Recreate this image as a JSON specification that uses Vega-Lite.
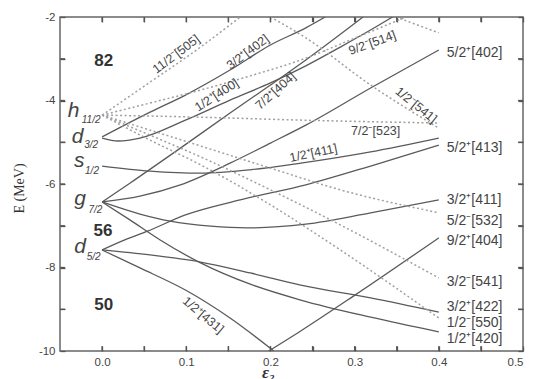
{
  "$schema": "https://vega.github.io/schema/vega-lite/v6.json",
  "width": 463,
  "height": 334,
  "autosize": {"type": "none"},
  "padding": {"left": 60, "top": 17, "right": 19, "bottom": 28},
  "background": "white",
  "config": {
    "view": {"stroke": "#666", "strokeWidth": 1.5},
    "axis": {"domain": false, "grid": false, "ticks": true, "zindex": 1, "tickColor": "#555", "tickOpacity": 1, "tickWidth": 1.3, "tickSize": 5, "offset": -5, "labelFont": "Liberation Sans", "labelFontSize": 11.5, "labelColor": "#444"}
  },
  "datasets": {
    "solid": [
      {"id": "S1", "eps": 0, "E": -4.87}, {"id": "S1", "eps": 0.021, "E": -4.65}, {"id": "S1", "eps": 0.057, "E": -4.28}, {"id": "S1", "eps": 0.099, "E": -3.87}, {"id": "S1", "eps": 0.152, "E": -3.27}, {"id": "S1", "eps": 0.2, "E": -2.67}, {"id": "S1", "eps": 0.242, "E": -2.26}, {"id": "S1", "eps": 0.265, "E": -2.0},
      {"id": "S2", "eps": 0, "E": -4.9}, {"id": "S2", "eps": 0.019, "E": -4.97}, {"id": "S2", "eps": 0.045, "E": -4.9}, {"id": "S2", "eps": 0.099, "E": -4.47}, {"id": "S2", "eps": 0.152, "E": -3.99}, {"id": "S2", "eps": 0.2, "E": -3.58}, {"id": "S2", "eps": 0.242, "E": -3.17}, {"id": "S2", "eps": 0.283, "E": -2.72}, {"id": "S2", "eps": 0.325, "E": -2.24}, {"id": "S2", "eps": 0.345, "E": -2.0},
      {"id": "S3", "eps": 0, "E": -6.43}, {"id": "S3", "eps": 0.033, "E": -5.98}, {"id": "S3", "eps": 0.093, "E": -5.14}, {"id": "S3", "eps": 0.152, "E": -4.3}, {"id": "S3", "eps": 0.2, "E": -3.63}, {"id": "S3", "eps": 0.242, "E": -3.03}, {"id": "S3", "eps": 0.31, "E": -2.0},
      {"id": "S4", "eps": 0, "E": -6.43}, {"id": "S4", "eps": 0.045, "E": -6.29}, {"id": "S4", "eps": 0.093, "E": -6.02}, {"id": "S4", "eps": 0.152, "E": -5.5}, {"id": "S4", "eps": 0.2, "E": -5.02}, {"id": "S4", "eps": 0.242, "E": -4.59}, {"id": "S4", "eps": 0.319, "E": -3.7}, {"id": "S4", "eps": 0.4, "E": -2.79},
      {"id": "S5", "eps": 0, "E": -7.58}, {"id": "S5", "eps": 0.027, "E": -7.34}, {"id": "S5", "eps": 0.054, "E": -7.13}, {"id": "S5", "eps": 0.099, "E": -6.74}, {"id": "S5", "eps": 0.164, "E": -6.38}, {"id": "S5", "eps": 0.242, "E": -6.02}, {"id": "S5", "eps": 0.319, "E": -5.57}, {"id": "S5", "eps": 0.4, "E": -5.07},
      {"id": "S6", "eps": 0, "E": -5.57}, {"id": "S6", "eps": 0.057, "E": -5.69}, {"id": "S6", "eps": 0.117, "E": -5.74}, {"id": "S6", "eps": 0.176, "E": -5.66}, {"id": "S6", "eps": 0.236, "E": -5.5}, {"id": "S6", "eps": 0.319, "E": -5.23}, {"id": "S6", "eps": 0.4, "E": -4.9},
      {"id": "S7", "eps": 0, "E": -6.43}, {"id": "S7", "eps": 0.045, "E": -6.72}, {"id": "S7", "eps": 0.081, "E": -6.89}, {"id": "S7", "eps": 0.129, "E": -7.01}, {"id": "S7", "eps": 0.173, "E": -7.05}, {"id": "S7", "eps": 0.242, "E": -6.96}, {"id": "S7", "eps": 0.319, "E": -6.69}, {"id": "S7", "eps": 0.4, "E": -6.38},
      {"id": "S8", "eps": 0, "E": -7.58}, {"id": "S8", "eps": 0.057, "E": -7.7}, {"id": "S8", "eps": 0.117, "E": -7.87}, {"id": "S8", "eps": 0.176, "E": -8.13}, {"id": "S8", "eps": 0.236, "E": -8.42}, {"id": "S8", "eps": 0.319, "E": -8.73}, {"id": "S8", "eps": 0.4, "E": -9.07},
      {"id": "S9", "eps": 0, "E": -6.43}, {"id": "S9", "eps": 0.033, "E": -6.86}, {"id": "S9", "eps": 0.069, "E": -7.34}, {"id": "S9", "eps": 0.117, "E": -7.89}, {"id": "S9", "eps": 0.176, "E": -8.4}, {"id": "S9", "eps": 0.236, "E": -8.78}, {"id": "S9", "eps": 0.319, "E": -9.19}, {"id": "S9", "eps": 0.4, "E": -9.54},
      {"id": "S10", "eps": 0, "E": -7.58}, {"id": "S10", "eps": 0.045, "E": -8.01}, {"id": "S10", "eps": 0.099, "E": -8.54}, {"id": "S10", "eps": 0.152, "E": -9.21}, {"id": "S10", "eps": 0.204, "E": -10.0},
      {"id": "S11", "eps": 0.198, "E": -10.0}, {"id": "S11", "eps": 0.236, "E": -9.52}, {"id": "S11", "eps": 0.299, "E": -8.68}, {"id": "S11", "eps": 0.4, "E": -7.29}
    ],
    "dotted": [
      {"id": "D1", "eps": 0, "E": -4.35}, {"id": "D1", "eps": 0.057, "E": -3.56}, {"id": "D1", "eps": 0.117, "E": -2.72}, {"id": "D1", "eps": 0.164, "E": -2.0},
      {"id": "D2", "eps": 0, "E": -4.35}, {"id": "D2", "eps": 0.057, "E": -4.06}, {"id": "D2", "eps": 0.117, "E": -3.75}, {"id": "D2", "eps": 0.176, "E": -3.41}, {"id": "D2", "eps": 0.236, "E": -3.03}, {"id": "D2", "eps": 0.295, "E": -2.55}, {"id": "D2", "eps": 0.361, "E": -2.0},
      {"id": "D3", "eps": 0, "E": -4.35}, {"id": "D3", "eps": 0.117, "E": -4.4}, {"id": "D3", "eps": 0.236, "E": -4.47}, {"id": "D3", "eps": 0.4, "E": -4.54},
      {"id": "D4", "eps": 0, "E": -4.35}, {"id": "D4", "eps": 0.057, "E": -4.71}, {"id": "D4", "eps": 0.117, "E": -5.09}, {"id": "D4", "eps": 0.2, "E": -5.62}, {"id": "D4", "eps": 0.283, "E": -6.14}, {"id": "D4", "eps": 0.4, "E": -6.69},
      {"id": "D5", "eps": 0, "E": -4.35}, {"id": "D5", "eps": 0.057, "E": -4.83}, {"id": "D5", "eps": 0.117, "E": -5.35}, {"id": "D5", "eps": 0.2, "E": -6.14}, {"id": "D5", "eps": 0.283, "E": -6.98}, {"id": "D5", "eps": 0.4, "E": -8.25},
      {"id": "D6", "eps": 0, "E": -4.35}, {"id": "D6", "eps": 0.057, "E": -4.95}, {"id": "D6", "eps": 0.117, "E": -5.54}, {"id": "D6", "eps": 0.2, "E": -6.5}, {"id": "D6", "eps": 0.283, "E": -7.58}, {"id": "D6", "eps": 0.4, "E": -9.21},
      {"id": "D7", "eps": 0.2, "E": -2.0}, {"id": "D7", "eps": 0.242, "E": -2.5}, {"id": "D7", "eps": 0.319, "E": -3.63}, {"id": "D7", "eps": 0.4, "E": -4.66},
      {"id": "D8", "eps": 0.349, "E": -2.0}, {"id": "D8", "eps": 0.4, "E": -2.38}
    ],
    "xbot": [{"eps": 0, "E": -10}, {"eps": 0.05, "E": -10}, {"eps": 0.1, "E": -10}, {"eps": 0.15, "E": -10}, {"eps": 0.2, "E": -10}, {"eps": 0.25, "E": -10}, {"eps": 0.3, "E": -10}, {"eps": 0.35, "E": -10}, {"eps": 0.4, "E": -10}, {"eps": 0.45, "E": -10}],
    "xtop": [{"eps": 0, "E": -2}, {"eps": 0.05, "E": -2}, {"eps": 0.1, "E": -2}, {"eps": 0.15, "E": -2}, {"eps": 0.2, "E": -2}, {"eps": 0.25, "E": -2}, {"eps": 0.3, "E": -2}, {"eps": 0.35, "E": -2}, {"eps": 0.4, "E": -2}, {"eps": 0.45, "E": -2}],
    "yleft": [{"eps": -0.05, "E": -9}, {"eps": -0.05, "E": -8}, {"eps": -0.05, "E": -7}, {"eps": -0.05, "E": -6}, {"eps": -0.05, "E": -5}, {"eps": -0.05, "E": -4}, {"eps": -0.05, "E": -3}],
    "yright": [{"eps": 0.5, "E": -9}, {"eps": 0.5, "E": -8}, {"eps": 0.5, "E": -7}, {"eps": 0.5, "E": -6}, {"eps": 0.5, "E": -5}, {"eps": 0.5, "E": -4}, {"eps": 0.5, "E": -3}],
    "right": [
      {"eps": 0.4, "E": -2.86, "t": "5/2⁺[402]"},
      {"eps": 0.4, "E": -5.14, "t": "5/2⁺[413]"},
      {"eps": 0.4, "E": -6.38, "t": "3/2⁺[411]"},
      {"eps": 0.4, "E": -6.89, "t": "5/2⁻[532]"},
      {"eps": 0.4, "E": -7.37, "t": "9/2⁺[404]"},
      {"eps": 0.4, "E": -8.35, "t": "3/2⁻[541]"},
      {"eps": 0.4, "E": -8.95, "t": "3/2⁺[422]"},
      {"eps": 0.4, "E": -9.33, "t": "1/2⁻[550]"},
      {"eps": 0.4, "E": -9.71, "t": "1/2⁺[420]"}
    ],
    "orb": [
      {"eps": -0.034, "E": -4.4, "t": "h"},
      {"eps": -0.029, "E": -5.02, "t": "d"},
      {"eps": -0.027, "E": -5.59, "t": "s"},
      {"eps": -0.026, "E": -6.5, "t": "g"},
      {"eps": -0.026, "E": -7.65, "t": "d"}
    ],
    "sub": [
      {"eps": -0.013, "E": -4.54, "t": "11/2"},
      {"eps": -0.013, "E": -5.14, "t": "3/2"},
      {"eps": -0.012, "E": -5.76, "t": "1/2"},
      {"eps": -0.008, "E": -6.69, "t": "7/2"},
      {"eps": -0.01, "E": -7.82, "t": "5/2"}
    ],
    "magic": [
      {"eps": 0.002, "E": -3.05, "t": "82"},
      {"eps": 0.001, "E": -7.13, "t": "56"},
      {"eps": 0.002, "E": -8.9, "t": "50"}
    ]
  },
  "layer": [
    {
      "data": {"name": "solid"},
      "mark": {"type": "line", "interpolate": "monotone", "stroke": "#5a5a5a", "strokeWidth": 1.3, "clip": true},
      "encoding": {
        "x": {"field": "eps", "type": "quantitative", "scale": {"domain": [-0.05, 0.5], "nice": false, "zero": false},
          "axis": {"orient": "bottom", "values": [0, 0.05, 0.1, 0.15, 0.2, 0.25, 0.3, 0.35, 0.4, 0.45, 0.5], "labelExpr": "round(datum.value*20) % 2 == 0 ? format(datum.value, '.1f') : ''", "labelPadding": 5, "title": "ε₂", "titleFont": "Liberation Serif", "titleFontStyle": "italic", "titleFontWeight": "bold", "titleFontSize": 17, "titleColor": "#333", "titleX": 208, "titleY": 31, "titleBaseline": "alphabetic", "titleAlign": "center"}},
        "y": {"field": "E", "type": "quantitative", "scale": {"domain": [-10, -2], "nice": false, "zero": false},
          "axis": {"orient": "left", "values": [-10, -9, -8, -7, -6, -5, -4, -3, -2], "labelExpr": "round(datum.value) % 2 == 0 ? datum.value : ''", "labelPadding": 5, "title": "E (MeV)", "titleFont": "Liberation Serif", "titleFontSize": 14, "titleFontWeight": "normal", "titleColor": "#333", "titleAngle": -90, "titleX": -46, "titleY": 171, "titleAlign": "center", "titleBaseline": "middle"}},
        "detail": {"field": "id"}
      }
    },
    {
      "data": {"name": "dotted"},
      "mark": {"type": "line", "interpolate": "monotone", "stroke": "#a0a0a0", "strokeWidth": 1.5, "strokeDash": [2, 2.5], "clip": true},
      "encoding": {
        "x": {"field": "eps", "type": "quantitative", "axis": {"orient": "top", "values": [0, 0.05, 0.1, 0.15, 0.2, 0.25, 0.3, 0.35, 0.4, 0.45, 0.5], "labels": false, "title": null}},
        "y": {"field": "E", "type": "quantitative", "axis": {"orient": "right", "values": [-10, -9, -8, -7, -6, -5, -4, -3, -2], "labels": false, "title": null}},
        "detail": {"field": "id"}
      }
    },
    {
      "data": {"name": "xbot"},
      "mark": {"type": "tick", "orient": "vertical", "size": 5, "thickness": 1.3, "color": "#555", "opacity": 1, "yOffset": -2.5},
      "encoding": {"x": {"field": "eps", "type": "quantitative", "axis": null}, "y": {"field": "E", "type": "quantitative", "axis": null}}
    },
    {
      "data": {"name": "xtop"},
      "mark": {"type": "tick", "orient": "vertical", "size": 5, "thickness": 1.3, "color": "#555", "opacity": 1, "yOffset": 2.5},
      "encoding": {"x": {"field": "eps", "type": "quantitative", "axis": null}, "y": {"field": "E", "type": "quantitative", "axis": null}}
    },
    {
      "data": {"name": "yleft"},
      "mark": {"type": "tick", "orient": "horizontal", "size": 5, "thickness": 1.3, "color": "#555", "opacity": 1, "xOffset": 2.5},
      "encoding": {"x": {"field": "eps", "type": "quantitative", "axis": null}, "y": {"field": "E", "type": "quantitative", "axis": null}}
    },
    {
      "data": {"name": "yright"},
      "mark": {"type": "tick", "orient": "horizontal", "size": 5, "thickness": 1.3, "color": "#555", "opacity": 1, "xOffset": -2.5},
      "encoding": {"x": {"field": "eps", "type": "quantitative", "axis": null}, "y": {"field": "E", "type": "quantitative", "axis": null}}
    },
    {
      "data": {"name": "right"},
      "mark": {"type": "text", "align": "left", "baseline": "middle", "dx": 8, "font": "Liberation Sans", "fontSize": 14, "fill": "#444"},
      "encoding": {"x": {"field": "eps", "type": "quantitative", "axis": null}, "y": {"field": "E", "type": "quantitative", "axis": null}, "text": {"field": "t"}}
    },
    {
      "data": {"name": "orb"},
      "mark": {"type": "text", "align": "center", "baseline": "alphabetic", "font": "Liberation Sans", "fontStyle": "italic", "fontSize": 21, "fill": "#444"},
      "encoding": {"x": {"field": "eps", "type": "quantitative", "axis": null}, "y": {"field": "E", "type": "quantitative", "axis": null}, "text": {"field": "t"}}
    },
    {
      "data": {"name": "sub"},
      "mark": {"type": "text", "align": "center", "baseline": "alphabetic", "font": "Liberation Sans", "fontStyle": "italic", "fontSize": 10, "fill": "#444"},
      "encoding": {"x": {"field": "eps", "type": "quantitative", "axis": null}, "y": {"field": "E", "type": "quantitative", "axis": null}, "text": {"field": "t"}}
    },
    {
      "data": {"name": "magic"},
      "mark": {"type": "text", "align": "center", "baseline": "middle", "font": "Liberation Sans", "fontWeight": "bold", "fontSize": 17, "fill": "#333"},
      "encoding": {"x": {"field": "eps", "type": "quantitative", "axis": null}, "y": {"field": "E", "type": "quantitative", "axis": null}, "text": {"field": "t"}}
    },
    {
      "data": {"values": [{"eps": 0.088, "E": -2.89, "t": "11/2⁻[505]"}, {"eps": 0.173, "E": -2.84, "t": "3/2⁺[402]"}]},
      "mark": {"type": "text", "align": "center", "baseline": "middle", "angle": -37, "font": "Liberation Sans", "fontSize": 12.5, "fill": "#444"},
      "encoding": {"x": {"field": "eps", "type": "quantitative", "axis": null}, "y": {"field": "E", "type": "quantitative", "axis": null}, "text": {"field": "t"}}
    },
    {
      "data": {"values": [{"eps": 0.136, "E": -3.87, "t": "1/2⁺[400]"}]},
      "mark": {"type": "text", "align": "center", "baseline": "middle", "angle": -33, "font": "Liberation Sans", "fontSize": 12.5, "fill": "#444"},
      "encoding": {"x": {"field": "eps", "type": "quantitative", "axis": null}, "y": {"field": "E", "type": "quantitative", "axis": null}, "text": {"field": "t"}}
    },
    {
      "data": {"values": [{"eps": 0.206, "E": -3.77, "t": "7/2⁺[404]"}]},
      "mark": {"type": "text", "align": "center", "baseline": "middle", "angle": -42, "font": "Liberation Sans", "fontSize": 12.5, "fill": "#444"},
      "encoding": {"x": {"field": "eps", "type": "quantitative", "axis": null}, "y": {"field": "E", "type": "quantitative", "axis": null}, "text": {"field": "t"}}
    },
    {
      "data": {"values": [{"eps": 0.321, "E": -2.62, "t": "9/2⁻[514]"}]},
      "mark": {"type": "text", "align": "center", "baseline": "middle", "angle": -20, "font": "Liberation Sans", "fontSize": 12.5, "fill": "#444"},
      "encoding": {"x": {"field": "eps", "type": "quantitative", "axis": null}, "y": {"field": "E", "type": "quantitative", "axis": null}, "text": {"field": "t"}}
    },
    {
      "data": {"values": [{"eps": 0.373, "E": -4.11, "t": "1/2⁻[541]"}]},
      "mark": {"type": "text", "align": "center", "baseline": "middle", "angle": 39, "font": "Liberation Sans", "fontSize": 12.5, "fill": "#444"},
      "encoding": {"x": {"field": "eps", "type": "quantitative", "axis": null}, "y": {"field": "E", "type": "quantitative", "axis": null}, "text": {"field": "t"}}
    },
    {
      "data": {"values": [{"eps": 0.325, "E": -4.73, "t": "7/2⁻[523]"}]},
      "mark": {"type": "text", "align": "center", "baseline": "middle", "font": "Liberation Sans", "fontSize": 12.5, "fill": "#444"},
      "encoding": {"x": {"field": "eps", "type": "quantitative", "axis": null}, "y": {"field": "E", "type": "quantitative", "axis": null}, "text": {"field": "t"}}
    },
    {
      "data": {"values": [{"eps": 0.251, "E": -5.26, "t": "1/2⁺[411]"}]},
      "mark": {"type": "text", "align": "center", "baseline": "middle", "angle": -12, "font": "Liberation Sans", "fontSize": 12.5, "fill": "#444"},
      "encoding": {"x": {"field": "eps", "type": "quantitative", "axis": null}, "y": {"field": "E", "type": "quantitative", "axis": null}, "text": {"field": "t"}}
    },
    {
      "data": {"values": [{"eps": 0.12, "E": -9.14, "t": "1/2⁺[431]"}]},
      "mark": {"type": "text", "align": "center", "baseline": "middle", "angle": 40, "font": "Liberation Sans", "fontSize": 12.5, "fill": "#444"},
      "encoding": {"x": {"field": "eps", "type": "quantitative", "axis": null}, "y": {"field": "E", "type": "quantitative", "axis": null}, "text": {"field": "t"}}
    }
  ]
}
